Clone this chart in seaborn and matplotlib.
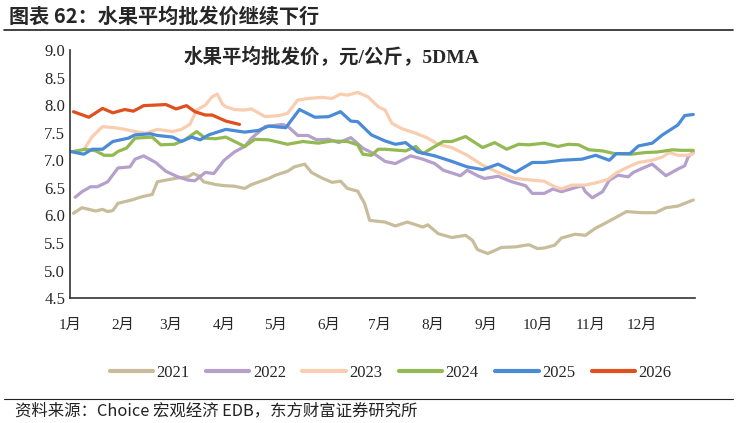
import seaborn as sns
import matplotlib.pyplot as plt
import pandas as pd

# day of year (0 = Jan 1) and price
d2021 = [2, 7, 15, 19, 22, 25, 28, 36, 42, 48, 51, 56, 63, 69, 72, 75, 78, 85, 90, 96, 102, 106, 116, 120, 127, 131,
         137, 141, 147, 153, 158, 162, 168, 172, 175, 184, 190, 197, 206, 209, 215, 223, 231, 235, 238, 244, 252, 260,
         268, 273, 277, 283, 287, 295, 301, 307, 312, 318, 325, 334, 342, 348, 355, 364]
v2021 = [6.04, 6.14, 6.08, 6.11, 6.07, 6.09, 6.22, 6.28, 6.34, 6.38, 6.61, 6.64, 6.68, 6.70, 6.76, 6.72, 6.61, 6.56,
         6.54, 6.53, 6.49, 6.56, 6.67, 6.73, 6.80, 6.88, 6.93, 6.78, 6.68, 6.60, 6.62, 6.49, 6.44, 6.22, 5.91, 5.88,
         5.81, 5.88, 5.79, 5.83, 5.67, 5.60, 5.64, 5.55, 5.38, 5.31, 5.42, 5.43, 5.47, 5.40, 5.41, 5.46, 5.59, 5.66,
         5.64, 5.77, 5.85, 5.95, 6.07, 6.05, 6.05, 6.14, 6.17, 6.28]

d2022 = [3, 7, 12, 16, 22, 28, 35, 38, 43, 50, 56, 63, 69, 73, 79, 84, 90, 96, 102, 106, 114, 124, 127, 133, 139, 144,
         151, 157, 164, 171, 178, 184, 190, 199, 206, 213, 218, 223, 228, 232, 235, 238, 242, 250, 258, 266, 270, 277,
         282, 287, 299, 301, 305, 311, 315, 320, 326, 329, 334, 340, 348, 355, 359, 361, 364]
v2022 = [6.33, 6.43, 6.52, 6.52, 6.61, 6.86, 6.88, 7.02, 7.08, 6.96, 6.80, 6.70, 6.64, 6.63, 6.78, 6.76, 7.00, 7.15,
         7.25, 7.40, 7.61, 7.65, 7.62, 7.45, 7.45, 7.37, 7.38, 7.32, 7.41, 7.22, 7.11, 6.98, 6.94, 7.08, 7.02, 6.94,
         6.82, 6.77, 6.72, 6.82, 6.77, 6.72, 6.67, 6.71, 6.61, 6.54, 6.40, 6.40, 6.48, 6.43, 6.54, 6.43, 6.32, 6.43,
         6.64, 6.73, 6.70, 6.78, 6.85, 6.93, 6.72, 6.84, 6.90, 7.06, 7.15]

d2023 = [8, 13, 19, 26, 32, 38, 44, 51, 60, 65, 70, 74, 79, 83, 86, 89, 91, 96, 102, 106, 114, 122, 127, 133, 139, 147,
         153, 158, 162, 168, 174, 180, 184, 188, 194, 202, 209, 215, 223, 232, 241, 250, 260, 270, 277, 283, 287, 293,
         301, 307, 314, 319, 326, 332, 340, 346, 350, 355, 361, 364]
v2023 = [7.19, 7.43, 7.61, 7.59, 7.56, 7.52, 7.49, 7.56, 7.52, 7.56, 7.65, 7.91, 8.00, 8.15, 8.20, 8.02, 7.97, 7.92,
         7.91, 7.93, 7.79, 7.81, 7.85, 8.09, 8.12, 8.14, 8.12, 8.20, 8.18, 8.23, 8.15, 7.97, 7.91, 7.67, 7.57, 7.49,
         7.40, 7.29, 7.23, 7.09, 6.91, 6.78, 6.67, 6.64, 6.62, 6.52, 6.48, 6.55, 6.55, 6.59, 6.65, 6.77, 6.88, 6.96,
         7.00, 7.06, 7.14, 7.09, 7.09, 7.12]

d2024 = [2, 9, 15, 20, 25, 28, 33, 38, 48, 53, 61, 67, 74, 79, 85, 91, 102, 108, 116, 127, 136, 145, 153, 162, 168,
         171, 176, 180, 184, 196, 202, 206, 213, 218, 223, 231, 235, 241, 248, 255, 262, 268, 277, 285, 291, 297, 303,
         311, 318, 328, 336, 343, 352, 357, 364]
v2024 = [7.16, 7.20, 7.17, 7.09, 7.09, 7.16, 7.22, 7.40, 7.42, 7.28, 7.29, 7.37, 7.52, 7.40, 7.39, 7.42, 7.25, 7.38,
         7.37, 7.29, 7.34, 7.31, 7.35, 7.34, 7.28, 7.11, 7.09, 7.20, 7.20, 7.17, 7.25, 7.12, 7.25, 7.34, 7.34, 7.43,
         7.35, 7.23, 7.32, 7.20, 7.29, 7.28, 7.31, 7.25, 7.29, 7.28, 7.19, 7.17, 7.12, 7.11, 7.14, 7.15, 7.19, 7.18,
         7.18]

d2025 = [0, 8, 13, 19, 25, 34, 38, 47, 51, 60, 65, 71, 76, 81, 91, 102, 110, 116, 126, 134, 143, 151, 158, 164, 168,
         172, 176, 184, 190, 196, 203, 213, 223, 232, 241, 250, 260, 270, 277, 287, 299, 307, 315, 319, 327, 332, 340,
         346, 352, 355, 359, 364]
v2025 = [7.16, 7.11, 7.20, 7.20, 7.34, 7.40, 7.46, 7.48, 7.45, 7.42, 7.34, 7.42, 7.37, 7.46, 7.56, 7.51, 7.54, 7.62,
         7.59, 7.92, 7.78, 7.79, 7.88, 7.71, 7.70, 7.58, 7.46, 7.35, 7.29, 7.32, 7.15, 7.08, 6.98, 6.88, 6.83, 6.93,
         6.78, 6.96, 6.96, 7.00, 7.02, 7.09, 7.00, 7.12, 7.12, 7.26, 7.31, 7.46, 7.58, 7.64, 7.81, 7.83]

d2026 = [2, 11, 19, 25, 32, 37, 43, 56, 62, 68, 73, 79, 83, 91, 99]
v2026 = [7.88, 7.78, 7.94, 7.86, 7.92, 7.89, 7.99, 8.01, 7.93, 7.99, 7.88, 7.82, 7.82, 7.71, 7.65]

years = ["2021", "2022", "2023", "2024", "2025", "2026"]
days = [d2021, d2022, d2023, d2024, d2025, d2026]
vals = [v2021, v2022, v2023, v2024, v2025, v2026]
colors = ["#C8BD9B", "#B4A0CB", "#F9CDB0", "#93B952", "#4A8BD8", "#E0501F"]

month_starts = [0, 31, 59, 90, 120, 151, 181, 212, 243, 273, 304, 334]
month_labels = [f"{i}月" for i in range(1, 13)]

df = pd.concat([pd.DataFrame({"day": d, "price": v, "year": y}) for d, v, y in zip(days, vals, years)])

sns.set_style("white")
plt.rcParams["font.family"] = ["Liberation Serif", "Noto Sans CJK SC"]

fig = plt.figure(figsize=(7.37, 4.23), dpi=100)
ax = fig.add_axes([0.095, 0.295, 0.848, 0.587])

sns.lineplot(data=df, x="day", y="price", hue="year", palette=colors, linewidth=2.3, ax=ax, legend=False)

ax.set_xlim(0, 365)
ax.set_ylim(4.5, 9.0)
ax.set_yticks([4.5 + 0.5 * i for i in range(10)])
ax.set_yticklabels([f"{4.5 + 0.5 * i:.1f}" for i in range(10)], fontsize=12)
ax.set_xticks(month_starts)
ax.set_xticklabels(month_labels, fontsize=11)
ax.tick_params(direction="in", length=4, color="#333333", width=1)
ax.tick_params(axis="x", pad=15)
ax.set_xlabel("")
ax.set_ylabel("")
for s in ["top", "right"]:
    ax.spines[s].set_visible(False)
for s in ["left", "bottom"]:
    ax.spines[s].set_color("#333333")
    ax.spines[s].set_linewidth(1.2)

ax.text(0.418, 0.97, "水果平均批发价，元/公斤，5DMA", transform=ax.transAxes, ha="center", va="center",
        fontsize=14, fontweight="bold", family=["Liberation Serif", "Noto Sans CJK SC"])

handles = [plt.Line2D([], [], color=c, lw=3) for c in colors]
fig.legend(handles, years, loc="center", bbox_to_anchor=(0.53, 0.118), ncol=6, frameon=False,
           fontsize=12, handlelength=2.6, handletextpad=0.2, columnspacing=1.0)

fig.text(0.012, 0.962, "图表 62：水果平均批发价继续下行", fontsize=14.5, fontweight="bold",
         family=["Noto Sans CJK SC", "DejaVu Sans"], va="center")
fig.add_artist(plt.Line2D([0.005, 0.995], [0.928, 0.928], color="#222222", lw=1.2, transform=fig.transFigure))
fig.add_artist(plt.Line2D([0.005, 0.995], [0.057, 0.057], color="#222222", lw=0.8, transform=fig.transFigure))
fig.text(0.02, 0.028, "资料来源：Choice 宏观经济 EDB，东方财富证券研究所", fontsize=11.8,
         family=["Noto Sans CJK SC", "DejaVu Sans"], va="center", color="#222222")

fig.savefig("out.png", dpi=100)
